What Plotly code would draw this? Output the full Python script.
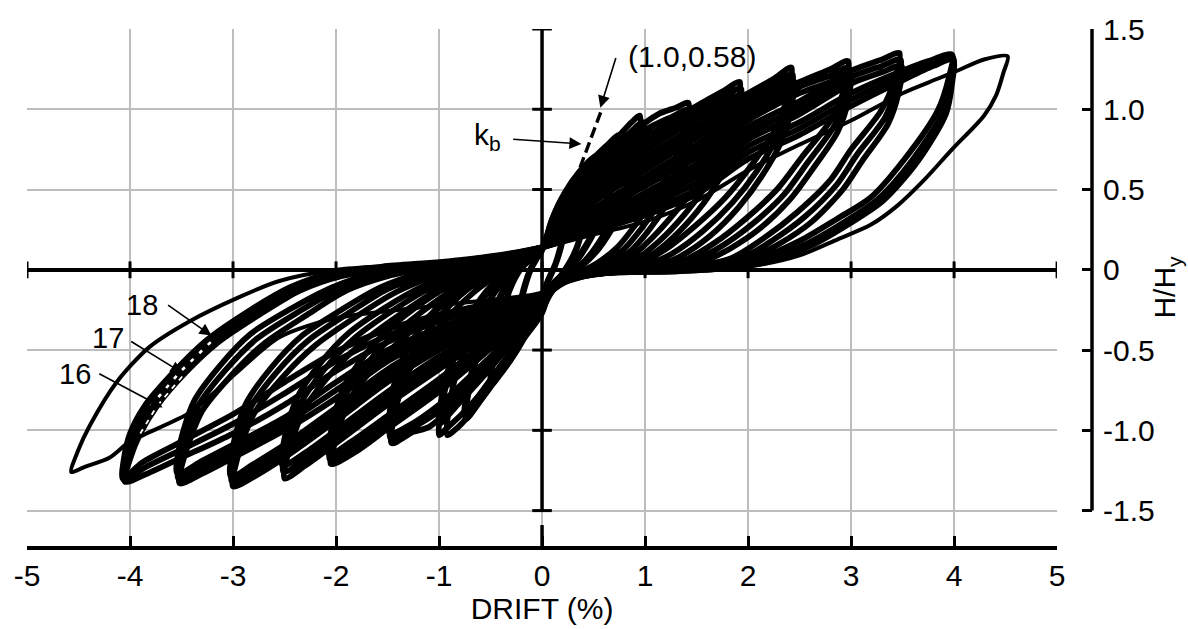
import plotly.graph_objects as go

# H/Hy against drift (%).
# each list is one continuous path, [drift, H/Hy], starting and ending near the origin
lvl_025 = [[0, 0.12], [0.09, 0.30], [0.18, 0.43], [0.27, 0.50], [0.25, 0.38], [0.2, 0.2], [0.13, 0.04],
           [0.06, -0.06], [0, -0.16], [-0.1, -0.3], [-0.18, -0.37], [-0.25, -0.42], [-0.23, -0.3],
           [-0.18, -0.14], [-0.11, 0.0], [-0.05, 0.07], [0, 0.12],
           [0.09, 0.29], [0.18, 0.41], [0.27, 0.48], [0.25, 0.36], [0.2, 0.18], [0.13, 0.03], [0.06, -0.07],
           [0, -0.17], [-0.1, -0.3], [-0.18, -0.36], [-0.25, -0.40], [-0.23, -0.28], [-0.18, -0.12],
           [-0.11, 0.01], [-0.05, 0.07], [0, 0.12]]

lvl_050 = [[0, 0.13], [0.1, 0.32], [0.22, 0.48], [0.36, 0.61], [0.52, 0.71], [0.49, 0.55], [0.42, 0.32],
           [0.33, 0.12], [0.22, -0.01], [0.1, -0.09], [0, -0.2], [-0.12, -0.36], [-0.26, -0.52], [-0.38, -0.63],
           [-0.5, -0.72], [-0.47, -0.55], [-0.4, -0.32], [-0.31, -0.12], [-0.2, 0.01], [-0.08, 0.08], [0, 0.13],
           [0.1, 0.3], [0.24, 0.46], [0.38, 0.59], [0.52, 0.68], [0.48, 0.51], [0.41, 0.29], [0.31, 0.1],
           [0.2, -0.02], [0.1, -0.1], [0, -0.21], [-0.13, -0.36], [-0.28, -0.51], [-0.4, -0.61], [-0.5, -0.69],
           [-0.46, -0.52], [-0.39, -0.29], [-0.3, -0.1], [-0.19, 0.02], [-0.08, 0.08], [0, 0.13]]

lvl_075 = [[0, 0.13], [0.1, 0.3], [0.25, 0.49], [0.45, 0.66], [0.62, 0.77], [0.75, 0.84], [0.72, 0.66],
           [0.63, 0.44], [0.5, 0.24], [0.35, 0.08], [0.2, -0.03], [0.08, -0.12], [0, -0.27], [-0.2, -0.45],
           [-0.4, -0.64], [-0.58, -0.8], [-0.74, -0.93], [-0.7, -0.72], [-0.6, -0.48], [-0.47, -0.26],
           [-0.32, -0.08], [-0.15, 0.05], [0, 0.13],
           [0.1, 0.29], [0.27, 0.47], [0.48, 0.64], [0.64, 0.74], [0.76, 0.80], [0.72, 0.62], [0.62, 0.4],
           [0.48, 0.2], [0.33, 0.05], [0.19, -0.04], [0.08, -0.13], [0, -0.26], [-0.22, -0.44], [-0.43, -0.62],
           [-0.6, -0.77], [-0.75, -0.89], [-0.7, -0.68], [-0.59, -0.44], [-0.45, -0.22], [-0.3, -0.05],
           [-0.14, 0.06], [0, 0.13]]

lvl_100 = [[0, 0.14], [0.12, 0.34], [0.29, 0.52], [0.55, 0.70], [0.74, 0.83], [0.87, 0.92], [0.95, 0.96],
           [0.94, 0.8], [0.87, 0.6], [0.74, 0.4], [0.58, 0.2], [0.42, 0.06], [0.25, -0.03], [0.1, -0.12],
           [0, -0.25], [-0.2, -0.44], [-0.45, -0.68], [-0.7, -0.9], [-0.85, -1.0], [-0.92, -1.03],
           [-0.9, -0.85], [-0.82, -0.62], [-0.68, -0.4], [-0.52, -0.2], [-0.34, -0.05], [-0.16, 0.06], [0, 0.14],
           [0.13, 0.32], [0.32, 0.5], [0.58, 0.68], [0.8, 0.82], [0.98, 0.92], [0.96, 0.76], [0.88, 0.55],
           [0.74, 0.35], [0.57, 0.16], [0.4, 0.04], [0.24, -0.04], [0.1, -0.13], [0, -0.25], [-0.22, -0.45],
           [-0.5, -0.7], [-0.78, -0.9], [-0.93, -0.99], [-1.0, -1.03], [-0.97, -0.84], [-0.88, -0.6],
           [-0.73, -0.37], [-0.56, -0.17], [-0.36, -0.03], [-0.17, 0.07], [0, 0.14],
           [0.14, 0.3], [0.36, 0.47], [0.62, 0.64], [0.85, 0.78], [0.99, 0.86], [0.96, 0.7], [0.87, 0.5],
           [0.72, 0.3], [0.55, 0.13], [0.38, 0.02], [0.22, -0.05], [0.1, -0.13], [0, -0.24], [-0.25, -0.42],
           [-0.55, -0.65], [-0.82, -0.84], [-1.0, -0.96], [-0.97, -0.78], [-0.88, -0.55], [-0.73, -0.32],
           [-0.55, -0.14], [-0.35, -0.01], [-0.17, 0.08], [0, 0.14]]

lvl_150 = [[0, 0.14], [0.12, 0.33], [0.5, 0.63], [0.85, 0.84], [1.13, 0.97], [1.3, 1.01], [1.42, 1.04],
           [1.39, 0.88], [1.3, 0.7], [1.12, 0.48], [0.93, 0.3], [0.73, 0.14], [0.53, 0.04], [0.32, -0.03],
           [0.12, -0.1], [0, -0.23], [-0.25, -0.42], [-0.5, -0.6], [-0.85, -0.84], [-1.1, -0.98],
           [-1.25, -1.01], [-1.46, -1.08], [-1.43, -0.9], [-1.33, -0.68], [-1.15, -0.48], [-0.92, -0.3],
           [-0.68, -0.15], [-0.45, -0.04], [-0.22, 0.05], [0, 0.14],
           [0.13, 0.31], [0.5, 0.6], [1.0, 0.87], [1.25, 0.95], [1.44, 1.0], [1.42, 0.84], [1.34, 0.66],
           [1.17, 0.45], [0.98, 0.27], [0.78, 0.12], [0.58, 0.03], [0.35, -0.03], [0.12, -0.11], [0, -0.23],
           [-0.25, -0.4], [-0.5, -0.57], [-1.0, -0.88], [-1.3, -1.0], [-1.47, -1.05], [-1.45, -0.87],
           [-1.37, -0.66], [-1.2, -0.46], [-0.98, -0.28], [-0.74, -0.13], [-0.5, -0.03], [-0.25, 0.05], [0, 0.14],
           [0.14, 0.3], [0.5, 0.58], [1.0, 0.83], [1.3, 0.92], [1.45, 0.96], [1.44, 0.8], [1.37, 0.62],
           [1.22, 0.42], [1.03, 0.24], [0.83, 0.1], [0.62, 0.02], [0.38, -0.03], [0.12, -0.12], [0, -0.22],
           [-0.25, -0.38], [-0.5, -0.54], [-1.0, -0.84], [-1.32, -0.98], [-1.48, -1.02], [-1.47, -0.84],
           [-1.4, -0.63], [-1.25, -0.43], [-1.04, -0.25], [-0.8, -0.11], [-0.55, -0.02], [-0.28, 0.05], [0, 0.14]]

lvl_200 = [[0, 0.14], [0.15, 0.29], [0.5, 0.54], [1.0, 0.82], [1.5, 1.02], [1.75, 1.11], [1.92, 1.17],
           [1.88, 0.99], [1.77, 0.8], [1.55, 0.57], [1.32, 0.38], [1.07, 0.2], [0.84, 0.07], [0.6, 0.0],
           [0.32, -0.04], [0.12, -0.1], [0, -0.21], [-0.5, -0.49], [-1.0, -0.76], [-1.5, -0.99], [-1.8, -1.13],
           [-2.05, -1.21], [-2.0, -1.05], [-1.86, -0.8], [-1.62, -0.6], [-1.34, -0.42], [-1.0, -0.24],
           [-0.7, -0.1], [-0.42, -0.01], [-0.2, 0.06], [0, 0.14],
           [0.16, 0.28], [0.5, 0.52], [1.0, 0.78], [1.5, 0.98], [1.75, 1.07], [1.93, 1.13], [1.9, 0.96],
           [1.81, 0.77], [1.61, 0.54], [1.39, 0.35], [1.14, 0.18], [0.9, 0.06], [0.65, 0.0], [0.35, -0.04],
           [0.12, -0.11], [0, -0.21], [-0.5, -0.46], [-1.0, -0.72], [-1.5, -0.95], [-1.8, -1.09], [-2.06, -1.18],
           [-2.02, -1.01], [-1.9, -0.77], [-1.68, -0.57], [-1.41, -0.39], [-1.08, -0.22], [-0.78, -0.09],
           [-0.48, 0.0], [-0.22, 0.07], [0, 0.14],
           [0.17, 0.27], [0.5, 0.5], [1.0, 0.74], [1.5, 0.94], [1.75, 1.03], [1.94, 1.09], [1.92, 0.92],
           [1.84, 0.73], [1.66, 0.5], [1.45, 0.32], [1.2, 0.16], [0.96, 0.05], [0.7, -0.01], [0.38, -0.04],
           [0.12, -0.11], [0, -0.2], [-0.5, -0.43], [-1.0, -0.68], [-1.5, -0.91], [-1.85, -1.07], [-2.07, -1.15],
           [-2.04, -0.98], [-1.93, -0.74], [-1.73, -0.54], [-1.47, -0.36], [-1.15, -0.2], [-0.85, -0.08],
           [-0.54, 0.01], [-0.25, 0.07], [0, 0.14]]

lvl_250 = [[0, 0.14], [0.18, 0.26], [0.5, 0.46], [1.0, 0.70], [1.5, 0.90], [2.0, 1.1], [2.25, 1.19],
           [2.42, 1.26], [2.38, 1.08], [2.27, 0.88], [2.02, 0.64], [1.78, 0.45], [1.48, 0.27], [1.18, 0.12],
           [0.9, 0.03], [0.6, -0.01], [0.3, -0.05], [0.1, -0.1], [0, -0.19], [-0.5, -0.4], [-1.0, -0.62],
           [-1.5, -0.84], [-2.0, -1.08], [-2.3, -1.22], [-2.5, -1.30], [-2.46, -1.13], [-2.3, -0.86],
           [-2.04, -0.64], [-1.74, -0.45], [-1.36, -0.27], [-1.0, -0.12], [-0.7, -0.03], [-0.4, 0.03], [0, 0.14],
           [0.19, 0.25], [0.5, 0.44], [1.0, 0.66], [1.5, 0.86], [2.0, 1.07], [2.25, 1.15], [2.43, 1.22],
           [2.4, 1.05], [2.3, 0.85], [2.08, 0.61], [1.85, 0.42], [1.56, 0.24], [1.26, 0.1], [0.97, 0.02],
           [0.65, -0.01], [0.32, -0.05], [0.1, -0.11], [0, -0.19], [-0.5, -0.38], [-1.0, -0.58], [-1.5, -0.8],
           [-2.0, -1.04], [-2.3, -1.18], [-2.51, -1.26], [-2.48, -1.09], [-2.34, -0.83], [-2.1, -0.61],
           [-1.81, -0.42], [-1.44, -0.25], [-1.08, -0.11], [-0.76, -0.02], [-0.44, 0.04], [0, 0.14],
           [0.2, 0.24], [0.5, 0.42], [1.0, 0.62], [1.5, 0.82], [2.0, 1.04], [2.25, 1.12], [2.44, 1.18],
           [2.42, 1.01], [2.33, 0.81], [2.13, 0.58], [1.91, 0.39], [1.63, 0.21], [1.33, 0.08], [1.03, 0.01],
           [0.7, -0.01], [0.35, -0.05], [0.1, -0.11], [0, -0.18], [-0.5, -0.36], [-1.0, -0.54], [-1.5, -0.76],
           [-2.0, -1.0], [-2.3, -1.14], [-2.52, -1.22], [-2.5, -1.05], [-2.38, -0.8], [-2.15, -0.58],
           [-1.87, -0.39], [-1.51, -0.23], [-1.15, -0.1], [-0.82, -0.01], [-0.48, 0.05], [0, 0.14]]

lvl_300 = [[0, 0.14], [0.2, 0.24], [0.5, 0.38], [1.0, 0.58], [1.5, 0.78], [2.0, 1.01], [2.5, 1.17],
           [2.8, 1.25], [2.97, 1.30], [2.93, 1.12], [2.8, 0.93], [2.52, 0.7], [2.28, 0.5], [1.98, 0.32],
           [1.68, 0.17], [1.38, 0.06], [1.05, 0.01], [0.7, -0.01], [0.35, -0.04], [0.12, -0.09], [0, -0.17],
           [-0.5, -0.33], [-1.0, -0.50], [-1.5, -0.70], [-2.0, -0.94], [-2.5, -1.17], [-2.8, -1.29],
           [-3.0, -1.35], [-2.96, -1.18], [-2.8, -0.9], [-2.52, -0.67], [-2.2, -0.47], [-1.8, -0.29],
           [-1.42, -0.14], [-1.05, -0.04], [-0.7, 0.02], [-0.3, 0.07], [0, 0.14],
           [0.2, 0.23], [0.5, 0.36], [1.0, 0.55], [1.5, 0.74], [2.0, 0.97], [2.5, 1.14], [2.8, 1.21],
           [2.98, 1.26], [2.95, 1.09], [2.84, 0.9], [2.58, 0.67], [2.35, 0.47], [2.05, 0.29], [1.75, 0.15],
           [1.45, 0.05], [1.1, 0.0], [0.75, -0.01], [0.37, -0.04], [0.12, -0.1], [0, -0.17], [-0.5, -0.31],
           [-1.0, -0.47], [-1.5, -0.66], [-2.0, -0.9], [-2.5, -1.13], [-2.8, -1.25], [-3.01, -1.32],
           [-2.98, -1.14], [-2.84, -0.87], [-2.58, -0.64], [-2.27, -0.44], [-1.88, -0.27], [-1.5, -0.12],
           [-1.12, -0.03], [-0.75, 0.03], [-0.32, 0.08], [0, 0.14],
           [0.2, 0.22], [0.5, 0.34], [1.0, 0.52], [1.5, 0.70], [2.0, 0.93], [2.5, 1.10], [2.8, 1.17],
           [2.99, 1.22], [2.97, 1.05], [2.87, 0.86], [2.63, 0.63], [2.41, 0.44], [2.12, 0.26], [1.82, 0.13],
           [1.52, 0.04], [1.16, 0.0], [0.8, -0.01], [0.4, -0.04], [0.12, -0.1], [0, -0.16], [-0.5, -0.29],
           [-1.0, -0.44], [-1.5, -0.62], [-2.0, -0.86], [-2.5, -1.09], [-2.8, -1.21], [-3.02, -1.29],
           [-3.0, -1.1], [-2.88, -0.84], [-2.63, -0.61], [-2.33, -0.41], [-1.95, -0.25], [-1.57, -0.11],
           [-1.18, -0.02], [-0.8, 0.03], [-0.35, 0.08], [0, 0.14]]

lvl_350 = [[0, 0.14], [0.5, 0.31], [1.0, 0.48], [1.5, 0.66], [2.0, 0.89], [2.5, 1.05], [3.0, 1.24],
           [3.3, 1.31], [3.47, 1.35], [3.42, 1.18], [3.29, 0.99], [3.0, 0.75], [2.8, 0.56], [2.48, 0.36],
           [2.16, 0.2], [1.83, 0.07], [1.45, 0.02], [1.0, 0.0], [0.5, -0.03], [0.18, -0.07], [0, -0.16],
           [-0.5, -0.27], [-1.0, -0.41], [-1.5, -0.57], [-2.0, -0.8], [-2.5, -1.0], [-3.0, -1.17],
           [-3.3, -1.27], [-3.52, -1.33], [-3.48, -1.18], [-3.3, -0.88], [-3.02, -0.66], [-2.7, -0.46],
           [-2.28, -0.28], [-1.9, -0.13], [-1.5, -0.04], [-1.1, 0.01], [-0.5, 0.06], [0, 0.14],
           [0.5, 0.29], [1.0, 0.45], [1.5, 0.62], [2.0, 0.85], [2.5, 1.01], [3.0, 1.2], [3.3, 1.27],
           [3.48, 1.31], [3.44, 1.14], [3.33, 0.95], [3.06, 0.72], [2.86, 0.53], [2.55, 0.33], [2.23, 0.18],
           [1.9, 0.06], [1.5, 0.01], [1.05, 0.0], [0.5, -0.03], [0.18, -0.07], [0, -0.16], [-0.5, -0.26],
           [-1.0, -0.38], [-1.5, -0.53], [-2.0, -0.75], [-2.5, -0.96], [-3.0, -1.13], [-3.3, -1.23],
           [-3.53, -1.30], [-3.5, -1.14], [-3.34, -0.85], [-3.08, -0.63], [-2.77, -0.43], [-2.36, -0.26],
           [-1.97, -0.12], [-1.57, -0.03], [-1.15, 0.02], [-0.5, 0.07], [0, 0.14],
           [0.5, 0.28], [1.0, 0.42], [1.5, 0.58], [2.0, 0.81], [2.5, 0.97], [3.0, 1.16], [3.3, 1.23],
           [3.49, 1.27], [3.46, 1.1], [3.36, 0.91], [3.11, 0.68], [2.92, 0.5], [2.62, 0.3], [2.3, 0.16],
           [1.96, 0.05], [1.56, 0.01], [1.1, 0.0], [0.5, -0.03], [0.18, -0.08], [0, -0.15], [-0.5, -0.25],
           [-1.0, -0.36], [-1.5, -0.5], [-2.0, -0.7], [-2.5, -0.92], [-3.0, -1.09], [-3.3, -1.19],
           [-3.54, -1.27], [-3.52, -1.1], [-3.38, -0.82], [-3.13, -0.6], [-2.83, -0.4], [-2.43, -0.24],
           [-2.04, -0.11], [-1.63, -0.02], [-1.2, 0.02], [-0.5, 0.08], [0, 0.14]]

# the three 4 % cycles that are numbered 16, 17 and 18 on the plot
cycle_16 = [[0, 0.14], [0.5, 0.26], [1.0, 0.39], [1.5, 0.54], [2.0, 0.77], [2.5, 0.92], [3.0, 1.1],
            [3.5, 1.24], [3.75, 1.3], [3.98, 1.34], [3.95, 1.2], [3.84, 0.99], [3.52, 0.69], [3.19, 0.45],
            [2.87, 0.32], [2.5, 0.18], [2.1, 0.07], [1.7, 0.02], [1.2, 0.0], [0.6, -0.02], [0.2, -0.06],
            [0, -0.15], [-0.5, -0.23], [-1.0, -0.32], [-1.5, -0.45], [-2.0, -0.63], [-2.5, -0.84],
            [-3.0, -1.02], [-3.5, -1.17], [-3.8, -1.26], [-4.05, -1.32], [-4.0, -1.18], [-3.9, -1.02],
            [-3.74, -0.85], [-3.46, -0.64], [-3.14, -0.45], [-2.72, -0.27], [-2.35, -0.13], [-1.95, -0.04],
            [-1.45, 0.01], [-0.8, 0.05], [0, 0.14]]

cycle_17 = [[0, 0.14], [0.5, 0.25], [1.0, 0.36], [1.5, 0.50], [2.0, 0.73], [2.5, 0.88], [3.0, 1.06],
            [3.5, 1.21], [3.75, 1.28], [3.99, 1.32], [3.97, 1.18], [3.89, 0.98], [3.59, 0.68], [3.26, 0.44],
            [2.94, 0.3], [2.56, 0.16], [2.16, 0.06], [1.76, 0.01], [1.25, -0.01], [0.6, -0.02], [0.2, -0.06],
            [0, -0.15], [-0.5, -0.22], [-1.0, -0.3], [-1.5, -0.41], [-2.0, -0.57], [-2.5, -0.77],
            [-3.0, -0.96], [-3.5, -1.12], [-3.85, -1.23], [-4.06, -1.31], [-4.03, -1.18], [-3.95, -1.02],
            [-3.8, -0.85], [-3.52, -0.64], [-3.2, -0.44], [-2.77, -0.26], [-2.4, -0.12], [-2.0, -0.03],
            [-1.5, 0.01], [-0.8, 0.05], [0, 0.14]]

cycle_18 = [[0, 0.14], [0.5, 0.24], [1.0, 0.34], [1.5, 0.47], [2.0, 0.69], [2.5, 0.84], [3.0, 1.02],
            [3.5, 1.18], [3.8, 1.27], [3.99, 1.31], [3.98, 1.16], [3.92, 0.97], [3.64, 0.67], [3.31, 0.43],
            [2.99, 0.29], [2.61, 0.15], [2.2, 0.05], [1.8, 0.01], [1.3, -0.01], [0.6, -0.02], [0.2, -0.06],
            [0, -0.15], [-0.5, -0.21], [-1.0, -0.28], [-1.5, -0.37], [-2.0, -0.51], [-2.5, -0.7],
            [-3.0, -0.9], [-3.5, -1.07], [-3.88, -1.2], [-4.07, -1.3], [-4.06, -1.18], [-4.0, -1.02],
            [-3.86, -0.85], [-3.58, -0.64], [-3.26, -0.44], [-2.83, -0.25], [-2.45, -0.11], [-2.05, -0.02],
            [-1.55, 0.02], [-0.8, 0.06], [0, 0.14]]

lvl_450 = [[0, 0.14], [0.5, 0.22], [1.0, 0.3], [1.5, 0.43], [2.0, 0.62], [2.5, 0.78], [3.0, 0.93],
           [3.5, 1.1], [3.84, 1.19], [4.03, 1.24], [4.29, 1.31], [4.52, 1.33], [4.48, 1.23], [4.41, 1.09],
           [4.29, 0.96], [3.98, 0.75], [3.71, 0.56], [3.45, 0.40], [3.19, 0.28], [2.87, 0.19], [2.5, 0.09],
           [2.1, 0.03], [1.6, 0.0], [1.0, -0.01], [0.5, -0.03], [0.15, -0.07], [0, -0.14], [-0.7, -0.2],
           [-1.4, -0.25], [-2.0, -0.3], [-2.55, -0.42], [-3.0, -0.66], [-3.42, -0.89], [-4.0, -1.07],
           [-4.2, -1.17], [-4.45, -1.23], [-4.57, -1.26], [-4.5, -1.12], [-4.39, -0.97], [-4.13, -0.70],
           [-3.81, -0.48], [-3.42, -0.32], [-2.94, -0.17], [-2.55, -0.07], [-2.0, 0.0], [-1.3, 0.03],
           [-0.6, 0.07], [0, 0.14]]

# initial stiffness line k_b, through (0.58 %, 1.0)
kb_drift = [0.26, 0.58]
kb_force = [0.45, 1.0]

x_ticks = [-5, -4, -3, -2, -1, 0, 1, 2, 3, 4, 5]
x_labels = ['-5', '-4', '-3', '-2', '-1', '0', '1', '2', '3', '4', '5']
y_ticks = [-1.5, -1.0, -0.5, 0, 0.5, 1.0, 1.5]
y_labels = ['-1.5', '-1.0', '-0.5', '0', '0.5', '1.0', '1.5']

FONT = 'Liberation Sans, Arial, Helvetica, sans-serif'
LW = 5.8


def col(pts, i):
    return [p[i] for p in pts]


fig = go.Figure()

for pts in [lvl_025, lvl_050, lvl_075, lvl_100, lvl_150, lvl_200, lvl_250, lvl_300, lvl_350,
            cycle_16, cycle_17, cycle_18, lvl_450]:
    w = 4.0 if pts is lvl_450 else LW
    fig.add_trace(go.Scatter(x=col(pts, 0), y=col(pts, 1), mode='lines',
                             line=dict(color='black', width=w, shape='spline', smoothing=0.8),
                             hoverinfo='skip'))

# cycles 16 and 17 show up dashed where they come apart from cycle 18
a = cycle_16.index([-3.9, -1.02])
dash16 = cycle_16[a:a + 3]
a = cycle_17.index([-3.8, -0.85])
dash17 = cycle_17[a:a + 3]
fig.add_trace(go.Scatter(x=col(dash16, 0), y=col(dash16, 1), mode='lines',
                         line=dict(color='white', width=1.8, dash='5px,6px'), hoverinfo='skip'))
fig.add_trace(go.Scatter(x=col(dash17, 0), y=col(dash17, 1), mode='lines',
                         line=dict(color='white', width=2.6, dash='4px,8px'), hoverinfo='skip'))

fig.add_trace(go.Scatter(x=kb_drift, y=kb_force, mode='lines',
                         line=dict(color='black', width=3.4, dash='11px,5px'), hoverinfo='skip'))

# tick stubs on the two axes drawn through the origin
fig.add_trace(go.Scatter(x=x_ticks, y=[0] * len(x_ticks), mode='markers', hoverinfo='skip',
                         marker=dict(symbol='line-ns', size=12, line=dict(width=3, color='black'))))
fig.add_trace(go.Scatter(x=[0] * len(y_ticks), y=y_ticks, mode='markers', hoverinfo='skip',
                         marker=dict(symbol='line-ew', size=14, line=dict(width=3, color='black'))))

fig.add_shape(type='line', xref='x', yref='y', x0=0, x1=0, y0=-1.5, y1=1.5,
              line=dict(color='black', width=3.5))
fig.add_shape(type='line', xref='x', yref='y', x0=0, x1=0, y0=-1.7205, y1=-1.59,
              line=dict(color='black', width=3.5))
fig.add_shape(type='line', xref='paper', yref='y', x0=1, x1=1, y0=-1.5, y1=1.5,
              line=dict(color='black', width=3.5))

# callouts: text position, arrow tail, arrow head (drift, H/Hy)
callouts = [
    ('(1.0,0.58)', 1.457, 1.329, 0.721, 1.329, 0.566, 1.01, 30),
    ('k<sub>b</sub>', -0.53, 0.83, -0.295, 0.814, 0.382, 0.784, 30),
    ('18', -3.887, -0.22, -3.645, -0.214, -3.209, -0.41, 29),
    ('17', -4.216, -0.423, -4.003, -0.441, -3.49, -0.643, 29),
    ('16', -4.535, -0.649, -4.313, -0.643, -3.683, -0.857, 29),
]
for text, tx, ty, ax, ay, hx, hy, size in callouts:
    fig.add_annotation(x=tx, y=ty, xref='x', yref='y', text=text, showarrow=False,
                       font=dict(size=size, family=FONT, color='black'))
    fig.add_annotation(x=hx, y=hy, xref='x', yref='y', ax=ax, ay=ay, axref='x', ayref='y',
                       text='', showarrow=True, arrowhead=2, arrowsize=1.5, arrowwidth=1.6,
                       arrowcolor='black', standoff=0)

grid = '#bdbdbd'
fig.update_layout(
    width=1188, height=629,
    margin=dict(l=27, r=93, t=22, b=81),
    paper_bgcolor='white', plot_bgcolor='white',
    showlegend=False,
    font=dict(family=FONT, size=30, color='black'),
    xaxis=dict(domain=[0, 0.96723], range=[-5, 5], tickvals=x_ticks, ticktext=x_labels,
               showgrid=True, gridcolor=grid, gridwidth=2.2, zeroline=False,
               showline=True, linecolor='black', linewidth=3.5,
               ticks='inside', ticklen=10, tickwidth=3, tickcolor='black',
               title=dict(text='DRIFT (%)', font=dict(size=30), standoff=4)),
    yaxis=dict(range=[-1.7205, 1.5], side='right', anchor='free', position=1,
               tickvals=y_ticks, ticktext=y_labels, ticklabelstandoff=10,
               showgrid=True, gridcolor=grid, gridwidth=2.2,
               zeroline=True, zerolinecolor='black', zerolinewidth=3.5, showline=False,
               ticks='inside', ticklen=10, tickwidth=3, tickcolor='black',
               title=dict(text='H/H<sub>y</sub>', font=dict(size=30), standoff=0)),
)

fig.write_html("out.html", config={'displayModeBar': False},
               post_script="document.body.style.margin='0';")
